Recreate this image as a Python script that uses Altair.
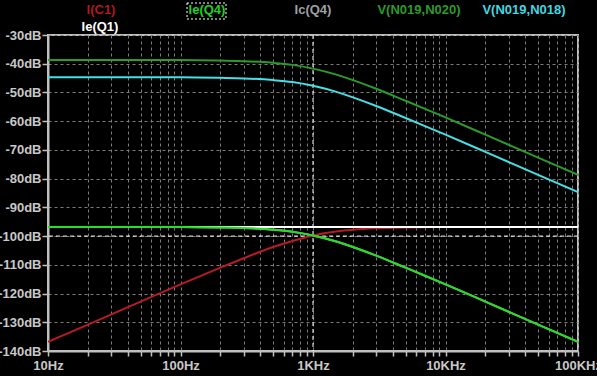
import altair as alt
import pandas as pd

freqs = [10, 20, 50, 100, 200, 300, 500, 700, 1000, 1500, 2000, 3000, 5000, 7000, 10000, 20000, 50000, 100000]

v_n019_n020 = [-38.7, -38.7, -38.7, -38.7, -38.9, -39.1, -39.7, -40.4, -41.7, -43.8, -45.7, -48.7, -52.9, -55.7, -58.7, -64.7, -72.7, -78.7]
v_n019_n018 = [-44.7, -44.7, -44.7, -44.7, -44.9, -45.1, -45.7, -46.4, -47.7, -49.8, -51.7, -54.7, -58.9, -61.7, -64.7, -70.7, -78.7, -84.7]
ie_q4 = [-96.8, -96.8, -96.8, -96.8, -97.0, -97.2, -97.8, -98.5, -99.8, -101.9, -103.8, -106.8, -111.0, -113.8, -116.8, -122.8, -130.8, -136.8]
ic_q4 = [-96.8, -96.8, -96.8, -96.8, -97.0, -97.2, -97.8, -98.5, -99.8, -101.9, -103.8, -106.8, -111.0, -113.8, -116.8, -122.8, -130.8, -136.8]
i_c1 = [-136.8, -130.8, -122.8, -116.8, -111.0, -107.7, -103.8, -101.7, -99.8, -98.4, -97.8, -97.3, -97.0, -96.9, -96.8, -96.8, -96.8, -96.8]
ie_q1 = [-96.8] * 18

# draw order (bottom to top)
series = [
    ("Ic(Q4)", ic_q4, "#a0a0a0"),
    ("I(C1)", i_c1, "#b81a26"),
    ("Ie(Q1)", ie_q1, "#ffffff"),
    ("V(N019,N020)", v_n019_n020, "#2c9a2c"),
    ("V(N019,N018)", v_n019_n018, "#44e0e6"),
    ("Ie(Q4)", ie_q4, "#22e022"),
]

x_ticks = [m * 10 ** e for e in range(1, 5) for m in range(1, 10)] + [100000]
y_ticks = list(range(-140, -20, 10))
x_labels = {10: "10Hz", 100: "100Hz", 1000: "1KHz", 10000: "10KHz", 100000: "100KHz"}

cursor_x = [1000]
cursor_y = [-100]

legend_names = ["I(C1)", "Ie(Q4)", "Ic(Q4)", "V(N019,N020)", "V(N019,N018)", "Ie(Q1)"]
legend_colors = ["#b01822", "#22d022", "#a0a0a0", "#2c9a2c", "#40d8e0", "#ffffff"]
legend_px = [53, 159, 265, 371, 476, 52]
legend_py = [-25, -25, -25, -25, -25, -8]

label_expr = " : ".join(f"datum.value == {k} ? '{v}'" for k, v in x_labels.items()) + " : ''"

xscale = alt.Scale(type="log", domain=[10, 100000], nice=False)
yscale = alt.Scale(domain=[-140, -30], nice=False, zero=False)

FONT = "Liberation Sans"

xaxis = alt.Axis(values=x_ticks, labelExpr=label_expr, title=None, grid=True,
                 gridDash=[3, 3], gridColor="#7c7c7c", gridWidth=1,
                 tickColor="#c0c0c0", tickSize=5, tickWidth=1.5,
                 domainColor="#c0c0c0", domainWidth=2,
                 labelColor="#c8c8c8", labelFont=FONT, labelFontSize=13, labelFontWeight="bold",
                 labelPadding=3, labelFlush=False, labelOverlap=False)
yaxis = alt.Axis(values=y_ticks, labelExpr="datum.value + 'dB'", title=None, grid=True,
                 gridDash=[3, 3], gridColor="#7c7c7c", gridWidth=1,
                 tickColor="#c0c0c0", tickSize=6, tickWidth=1.5,
                 domainColor="#c0c0c0", domainWidth=2,
                 labelColor="#c8c8c8", labelFont=FONT, labelFontSize=13, labelFontWeight="bold",
                 labelPadding=1, labelOverlap=False)

layers = []
# cursors
layers.append(
    alt.Chart(pd.DataFrame({"f": cursor_x})).mark_rule(color="#ffffff", strokeDash=[4, 3], strokeWidth=1)
    .encode(x=alt.X("f:Q", scale=xscale, axis=xaxis))
)
layers.append(
    alt.Chart(pd.DataFrame({"db": cursor_y})).mark_rule(color="#ffffff", strokeDash=[4, 3], strokeWidth=1)
    .encode(y=alt.Y("db:Q", scale=yscale, axis=yaxis))
)

for name, vals, col in series:
    df = pd.DataFrame({"f": freqs, "db": vals})
    layers.append(
        alt.Chart(df).mark_line(color=col, strokeWidth=2, interpolate="monotone", clip=True)
        .encode(x=alt.X("f:Q", scale=xscale, axis=xaxis),
                y=alt.Y("db:Q", scale=yscale, axis=yaxis))
    )

leg_df = pd.DataFrame({"name": legend_names, "px": legend_px, "py": legend_py})
for i in range(len(legend_names)):
    layers.append(
        alt.Chart(leg_df.iloc[[i]]).mark_text(font=FONT, fontSize=13, fontWeight="bold",
                                              color=legend_colors[i], align="center", baseline="middle")
        .encode(text="name:N", x=alt.value(legend_px[i]), y=alt.value(legend_py[i]))
    )

# dashed selection box around Ie(Q4)
layers.append(
    alt.Chart(pd.DataFrame({"a": [0]})).mark_rect(fill=None, stroke="#ffffff", strokeDash=[2, 2], strokeWidth=1)
    .encode(x=alt.value(139), x2=alt.value(178), y=alt.value(-32), y2=alt.value(-16))
)

chart = alt.layer(*layers).properties(
    width=530, height=316,
    padding={"left": 48, "top": 35, "right": 19, "bottom": 25},
    autosize=alt.AutoSizeParams(type="none"),
    background="#000000",
).configure_view(stroke="#c0c0c0", strokeWidth=2)

chart.save("out.html", embed_options={"renderer": "svg", "actions": False})
